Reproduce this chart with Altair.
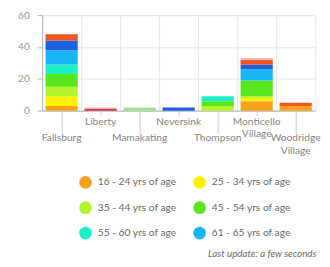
import altair as alt
import pandas as pd

municipalities = ["Fallsburg", "Liberty", "Mamakating", "Neversink", "Thompson",
                  "Monticello Village", "Woodridge Village"]
upper_labels = ["Liberty", "Neversink", "Monticello Village"]
lower_labels = ["Fallsburg", "Mamakating", "Thompson", "Woodridge Village"]

age_groups = ["16 - 24 yrs of age", "25 - 34 yrs of age", "35 - 44 yrs of age",
              "45 - 54 yrs of age", "55 - 60 yrs of age", "61 - 65 yrs of age",
              "66 - 70 yrs of age", "71 - 75 yrs of age", "76 - 80 yrs of age",
              "81 - 85 yrs of age", "86+ yrs of age", "Age not reported"]
age_colors = ["#f9a11b", "#fff200", "#b2f52c", "#58e61c", "#1cf0c6", "#18b6f8",
              "#1f5fe0", "#d13a8c", "#f0561f", "#c33a4a", "#f3b6ad", "#a3e08c"]

# counts per age group, one value per municipality (order as above)
v_16_24 = [3, 0, 0, 0, 0, 6, 3]
v_25_34 = [6, 0, 0, 0, 0, 2, 0]
v_35_44 = [6, 0, 0, 0, 3, 1, 0]
v_45_54 = [8, 0, 0, 0, 3, 10, 0]
v_55_60 = [6, 0, 0, 0, 3, 0, 0]
v_61_65 = [9, 0, 0, 0, 0, 7, 0]
v_66_70 = [6, 0, 0, 2, 0, 3, 0]
v_71_75 = [0, 0, 0, 0, 0, 0, 0]
v_76_80 = [4, 0, 0, 0, 0, 3, 2]
v_81_85 = [0, 1, 0, 0, 0, 0, 0]
v_86_up = [0, 1, 0, 0, 0, 1, 0]
v_unknown = [0, 0, 2, 0, 0, 0, 0]

series = [v_16_24, v_25_34, v_35_44, v_45_54, v_55_60, v_61_65,
          v_66_70, v_71_75, v_76_80, v_81_85, v_86_up, v_unknown]

note_text = "Last update: a few seconds"

rows = []
for k, (grp, vals) in enumerate(zip(age_groups, series)):
    for m, v in zip(municipalities, vals):
        if v > 0:
            rows.append({"muni": m, "age": grp, "count": v, "k": k})
df = pd.DataFrame(rows)

FONT = "Lato"
x_scale = alt.Scale(domain=municipalities, paddingInner=0.175, paddingOuter=0.0875)
y_scale = alt.Scale(domain=[0, 60], nice=False)
y_axis = alt.Axis(values=[0, 20, 40, 60], grid=True, gridColor="#e6e6e6",
                  domainColor="#b5b5b5", tickColor="#b5b5b5", tickSize=5,
                  labelPadding=8, labelColor="#9a9a9a", labelFontSize=10.5,
                  labelFont=FONT, title=None)

grid_axis = alt.Axis(orient="bottom", labels=False, ticks=False, domain=False,
                     grid=True, gridColor="#e6e6e6", bandPosition=0, tickOffset=-3.5,
                     title=None)

bars = alt.Chart(df).mark_bar(strokeWidth=0).encode(
    x=alt.X("muni:N", scale=x_scale, sort=municipalities, axis=grid_axis),
    y=alt.Y("sum(count):Q", scale=y_scale, stack="zero", axis=y_axis),
    color=alt.Color("age:N", scale=alt.Scale(domain=age_groups, range=age_colors),
                    legend=alt.Legend(values=age_groups[:6], title=None, orient="none",
                                      direction="horizontal",
                                      legendX=38, legendY=165, columns=2,
                                      symbolType="circle", symbolSize=169,
                                      symbolStrokeWidth=0, symbolOpacity=1,
                                      labelFont=FONT, labelFontSize=10.5,
                                      labelColor="#6a6a6a", labelOffset=6,
                                      rowPadding=13, columnPadding=16, padding=0)),
    order=alt.Order("k:Q", sort="ascending"),
)


def label_layer(vals, tick, pad, domain):
    return alt.Chart(df).mark_bar(opacity=0).encode(
        x=alt.X("muni:N", scale=x_scale, sort=municipalities,
                axis=alt.Axis(orient="bottom", values=vals, grid=False, domain=domain,
                              domainColor="#b5b5b5", ticks=True, tickColor="#c8c8c8",
                              tickSize=tick, labelPadding=pad,
                              labelExpr="split(datum.value, ' ')",
                              labelLineHeight=12.5, labelFontSize=10.5, labelFont=FONT,
                              labelColor="#858585", labelAngle=0, labelOverlap=False,
                              title=None)),
        y=alt.Y("sum(count):Q", scale=y_scale, stack="zero", axis=y_axis),
    )


upper = label_layer(upper_labels, 5, 1, True)
lower = label_layer(lower_labels, 23, 0, False)

note = alt.Chart(pd.DataFrame({"t": [note_text]})).mark_text(
    align="left", baseline="middle", font=FONT, fontSize=10, fontStyle="italic",
    color="#6a6a6a").encode(text="t:N", x=alt.value(170), y=alt.value(245))

chart = alt.layer(bars, upper, lower, note).resolve_axis(x="independent").properties(
    width=280, height=98,
    autosize=alt.AutoSizeParams(type="none"),
    padding={"left": 35, "top": 4, "right": 7, "bottom": 157},
).configure_view(stroke="#e6e6e6")

chart.save("out.html", embed_options={"renderer": "svg", "actions": False})
